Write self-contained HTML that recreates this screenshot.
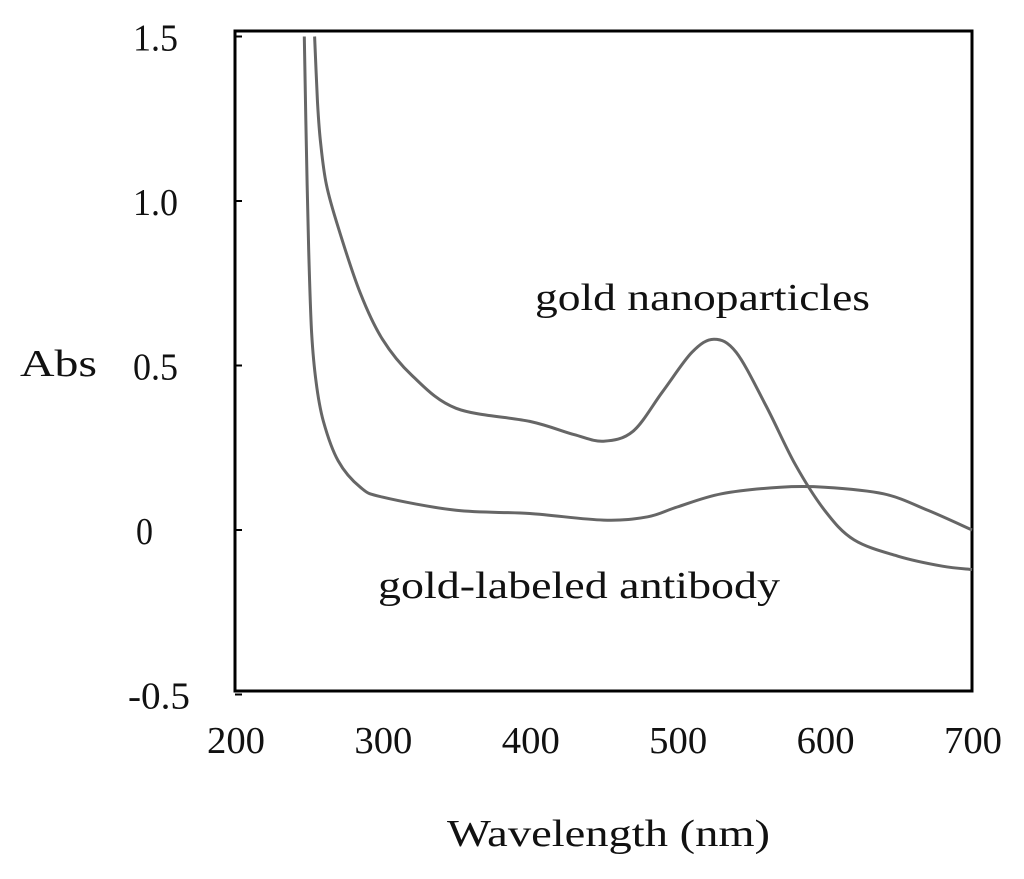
<!DOCTYPE html>
<html><head><meta charset="utf-8"><style>
body{margin:0;background:#fff}
svg{display:block}
text{font-family:"Liberation Serif",serif;fill:#111}
</style></head><body>
<svg width="1024" height="879" id="chart"></svg>
<script>
const xTicks=[200,300,400,500,600,700];
const yTicks=[1.5,1.0,0.5,0,-0.5];
const yTickLabels=["1.5","1.0","0.5","0","-0.5"];
const npWl=[254,256,258,262,270,285,300,320,350,400,430,450,470,490,510,525,540,560,580,600,620,650,680,700];
const npAbs=[1.5,1.3,1.18,1.05,0.92,0.72,0.58,0.47,0.37,0.33,0.29,0.27,0.3,0.42,0.54,0.58,0.54,0.38,0.2,0.06,-0.03,-0.08,-0.11,-0.12];
const abWl=[247,248,250,252,255,260,270,285,300,350,400,450,480,500,530,570,600,640,670,700];
const abAbs=[1.5,1.25,0.85,0.6,0.45,0.33,0.21,0.13,0.1,0.06,0.05,0.03,0.04,0.07,0.11,0.13,0.13,0.11,0.06,0.0];
const svg=document.getElementById('chart');
const NS='http://www.w3.org/2000/svg';
const X=v=>235+(v-200)*737/500;
const Y=v=>530-v*329;
function mk(tag,attrs,txt){const e=document.createElementNS(NS,tag);for(const k in attrs)e.setAttribute(k,attrs[k]);if(txt!=null)e.textContent=txt;svg.appendChild(e);return e;}
let r=mk('rect',{x:235,y:31,width:737,height:660,fill:'none',stroke:'#000','stroke-width':3});


yTicks.forEach((v,i)=>{
 const s=yTickLabels[i];
 const t=mk('text',{x:s.length>3?128:(s.length==1?136:133),y:Y(v)+14,'font-size':38,textLength:s.length*17+(s.indexOf('.')>=0?-6:0),lengthAdjust:'spacingAndGlyphs'},s);
 
 
 const tk=mk('line',{x1:235,x2:242,y1:Y(v),y2:Y(v),stroke:'#000','stroke-width':2});
 
 
});
xTicks.forEach(v=>{
 const t=mk('text',{x:X(v)-28,y:753,'font-size':38,textLength:58,lengthAdjust:'spacingAndGlyphs'},String(v));
 
 
});
function series(wl,ab,name){
 const P=wl.map((w,i)=>[X(w),Y(ab[i])]);
 let d='M'+P[0][0].toFixed(1)+' '+P[0][1].toFixed(1);
 for(let i=0;i<P.length-1;i++){
  const p0=P[i-1]||P[i],p1=P[i],p2=P[i+1],p3=P[i+2]||P[i+1];
  const c1=[p1[0]+(p2[0]-p0[0])/6,p1[1]+(p2[1]-p0[1])/6];
  const c2=[p2[0]-(p3[0]-p1[0])/6,p2[1]-(p3[1]-p1[1])/6];
  d+=' C'+c1.map(n=>n.toFixed(1)).join(' ')+' '+c2.map(n=>n.toFixed(1)).join(' ')+' '+p2.map(n=>n.toFixed(1)).join(' ');
 }
 const p=mk('path',{d:d,fill:'none',stroke:'#666','stroke-width':3,'stroke-linejoin':'round'});
 
 
}
series(npWl,npAbs,'gold-nanoparticles-line');
series(abWl,abAbs,'gold-labeled-antibody-line');
let a=mk('text',{x:535,y:310,'font-size':38,textLength:335,lengthAdjust:'spacingAndGlyphs'},'gold nanoparticles');


let b=mk('text',{x:378,y:598,'font-size':38,textLength:402,lengthAdjust:'spacingAndGlyphs'},'gold-labeled antibody');


let c=mk('text',{x:20,y:376,'font-size':38,textLength:77,lengthAdjust:'spacingAndGlyphs'},'Abs');


let d=mk('text',{x:447,y:846,'font-size':38,textLength:323,lengthAdjust:'spacingAndGlyphs'},'Wavelength (nm)');


</script>
</body></html>
